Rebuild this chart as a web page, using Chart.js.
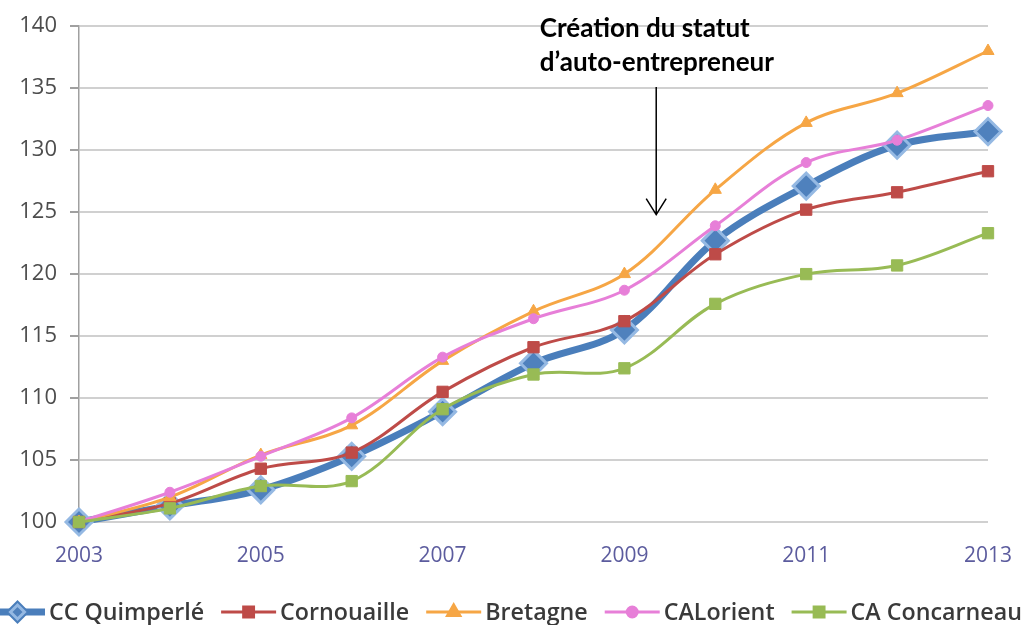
<!DOCTYPE html>
<html>
<head>
<meta charset="utf-8">
<script src="https://cdn.jsdelivr.net/npm/chart.js@4/dist/chart.umd.min.js"></script>
<style>
  html, body { margin: 0; padding: 0; background: #fff; }
  #wrap { width: 1027px; height: 625px; position: relative; }
</style>
</head>
<body>
<div id="wrap"><canvas id="chart"></canvas></div>
<script>
const years = [2003, 2004, 2005, 2006, 2007, 2008, 2009, 2010, 2011, 2012, 2013];
const yTicks = [100, 105, 110, 115, 120, 125, 130, 135, 140];
const xTicks = [2003, 2005, 2007, 2009, 2011, 2013];

const quimperle = [100, 101.3, 102.6, 105.3, 108.9, 112.8, 115.5, 122.7, 127.1, 130.4, 131.5];
const cornouaille = [100, 101.5, 104.3, 105.6, 110.5, 114.1, 116.2, 121.6, 125.2, 126.6, 128.3];
const bretagne = [100, 102.0, 105.4, 107.8, 113.0, 117.0, 120.0, 126.8, 132.2, 134.6, 138.0];
const lorient = [100, 102.4, 105.3, 108.4, 113.3, 116.4, 118.7, 123.9, 129.0, 130.8, 133.6];
const concarneau = [100, 101.1, 102.9, 103.3, 109.1, 111.9, 112.4, 117.6, 120.0, 120.7, 123.3];

const annotationLines = ["Création du statut", "d’auto-entrepreneur"];
const annotationX = 2008.07;
const arrowX = 2009.35;
const arrowFrom = 135.1;
const arrowTo = 124.8;

const toPoints = (values) => values.map((v, i) => ({ x: years[i], y: v }));

const series = [
  { label: "CC Quimperlé", data: quimperle, color: "#4a7ebb", width: 7, style: "rectRot", radius: 13, fill: "#4f81bd", border: "#95b9e3", bw: 3, order: 5 },
  { label: "Cornouaille", data: cornouaille, color: "#be4b48", width: 3, style: "rect", radius: 8, fill: "#be4b48", border: "#be4b48", bw: 1, order: 4 },
  { label: "Bretagne", data: bretagne, color: "#f6a645", width: 3, style: "triangle", radius: 7, fill: "#f6a645", border: "#f6a645", bw: 1, order: 3 },
  { label: "CALorient", data: lorient, color: "#e77fd8", width: 3, style: "circle", radius: 5, fill: "#e77fd8", border: "#e77fd8", bw: 1, order: 2 },
  { label: "CA Concarneau", data: concarneau, color: "#98bb55", width: 3, style: "rect", radius: 8, fill: "#98bb55", border: "#98bb55", bw: 1, order: 1 }
];

const datasets = series.map((s) => ({
  label: s.label,
  data: toPoints(s.data),
  borderColor: s.color,
  borderWidth: s.width,
  backgroundColor: s.fill,
  pointStyle: s.style,
  pointRadius: s.radius,
  pointBackgroundColor: s.fill,
  pointBorderColor: s.border,
  pointBorderWidth: s.bw,
  tension: 0.35,
  clip: false,
  order: s.order
}));

// annotation: text + arrow placed with the chart scales
const annotationPlugin = {
  id: "annotation",
  afterDraw(chart) {
    const { ctx, scales } = chart;
    const tx = scales.x.getPixelForValue(annotationX);
    ctx.save();
    ctx.fillStyle = "#000";
    ctx.font = "bold 26px Lato";
    ctx.textBaseline = "alphabetic";
    ctx.textAlign = "left";
    ctx.fillText(annotationLines[0], tx, 37);
    ctx.fillText(annotationLines[1], tx, 71);

    const ax = scales.x.getPixelForValue(arrowX);
    const y1 = scales.y.getPixelForValue(arrowFrom);
    const y2 = scales.y.getPixelForValue(arrowTo);
    ctx.strokeStyle = "#000";
    ctx.lineWidth = 1.5;
    ctx.beginPath();
    ctx.moveTo(ax, y1);
    ctx.lineTo(ax, y2);
    ctx.moveTo(ax - 10, y2 - 16);
    ctx.lineTo(ax, y2);
    ctx.lineTo(ax + 10, y2 - 16);
    ctx.stroke();
    ctx.restore();
  }
};

// bottom legend with line + marker symbols
const legendPlugin = {
  id: "bottomLegend",
  afterDraw(chart) {
    const { ctx } = chart;
    const y = 612;
    const symW = 55;
    const gapSym = 4;
    const gapItem = 17;
    const startX = -10;
    ctx.save();
    ctx.font = "600 23px 'Open Sans'";
    const widths = series.map((s) => ctx.measureText(s.label).width);
    const textTotal = widths.reduce((a, b) => a + b, 0);
    const avail = 1022 - startX - series.length * (symW + gapSym) - (series.length - 1) * gapItem;
    const sx = avail / textTotal;
    let x = startX;
    series.forEach((s, i) => {
      ctx.strokeStyle = s.color;
      ctx.lineWidth = s.width;
      ctx.beginPath();
      ctx.moveTo(x, y);
      ctx.lineTo(x + symW, y);
      ctx.stroke();
      Chart.helpers.drawPoint(ctx, {
        pointStyle: s.style,
        radius: Math.min(s.radius, 7),
        rotation: 0,
        borderWidth: s.bw
      }, x + symW / 2, y);
      ctx.fillStyle = s.fill;
      ctx.fill();
      ctx.strokeStyle = s.border;
      ctx.lineWidth = s.bw;
      ctx.stroke();
      x += symW + gapSym;
      ctx.save();
      ctx.translate(x, y);
      ctx.scale(sx, 1);
      ctx.fillStyle = "#3a3a3a";
      ctx.textBaseline = "middle";
      ctx.fillText(s.label, 0, 1);
      ctx.restore();
      x += widths[i] * sx + gapItem;
    });
    ctx.restore();
  }
};

new Chart(document.getElementById("chart"), {
  type: "line",
  data: { datasets },
  options: {
    responsive: true,
    maintainAspectRatio: false,
    animation: false,
    layout: { padding: { left: 0, right: 39, top: 20, bottom: 58 } },
    plugins: {
      legend: { display: false },
      tooltip: { enabled: false }
    },
    scales: {
      x: {
        type: "linear",
        min: years[0],
        max: years[years.length - 1],
        afterBuildTicks: (axis) => { axis.ticks = xTicks.map((v) => ({ value: v })); },
        afterFit: (axis) => { axis.height = 45; },
        grid: { display: false },
        border: { display: false },
        ticks: {
          color: "#5c5c9e",
          font: { family: "'Open Sans'", size: 21 },
          padding: 13,
          maxRotation: 0,
          callback: (v) => String(v)
        }
      },
      y: {
        min: yTicks[0],
        max: yTicks[yTicks.length - 1],
        afterBuildTicks: (axis) => { axis.ticks = yTicks.map((v) => ({ value: v })); },
        afterFit: (axis) => { axis.width = 79; },
        grid: { color: "#d0d0d0", lineWidth: 2, tickLength: 9, tickColor: "#a0a0a0" },
        border: { display: true, color: "#a0a0a0", width: 1.5 },
        ticks: {
          color: "#4d4d4d",
          font: { family: "'Open Sans'", size: 22 },
          padding: 13
        }
      }
    }
  },
  plugins: [annotationPlugin, legendPlugin]
});
</script>
</body>
</html>
